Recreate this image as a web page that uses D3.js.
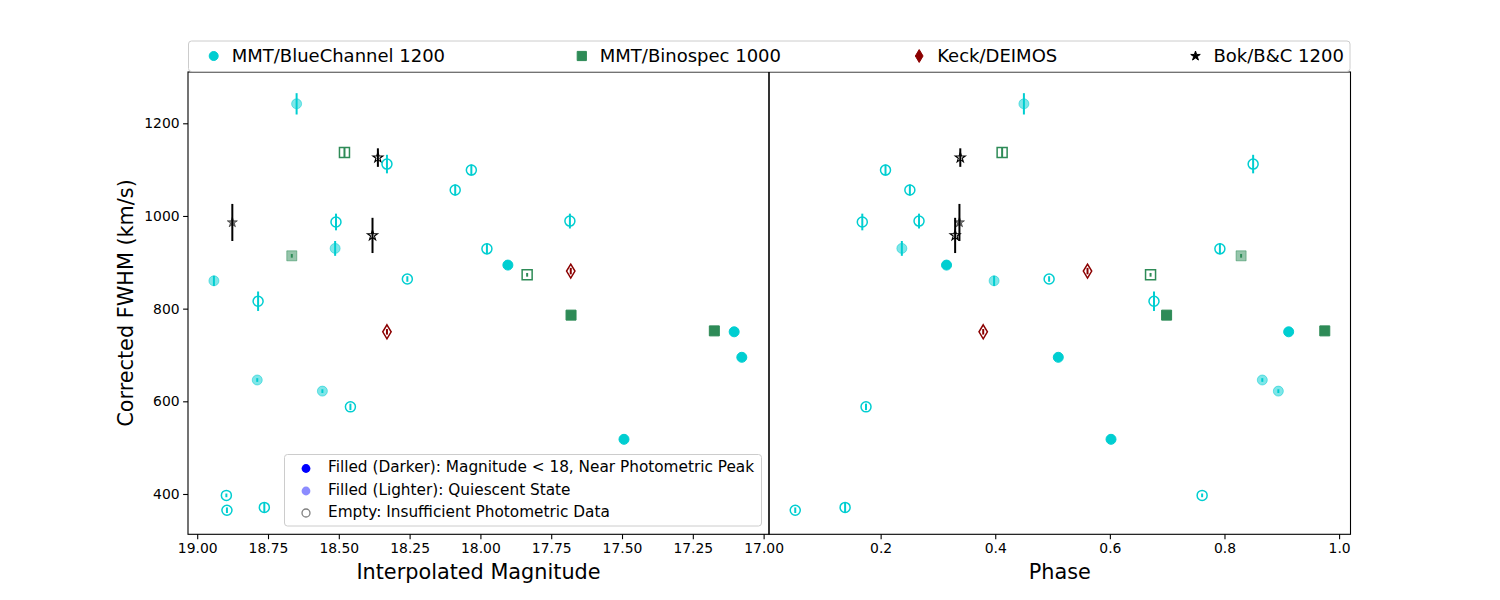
<!DOCTYPE html>
<html>
<head>
<meta charset="utf-8">
<script src="https://cdn.jsdelivr.net/npm/d3@7"></script>
<style>
  body { margin: 0; background: #fff; }
  svg { font-family: "DejaVu Sans", sans-serif; }
</style>
</head>
<body>
<svg id="chart" width="1500" height="600"></svg>
<script>
// one entry per spectrum, sorted by magnitude
const instrument = ["BC", "BC", "BC", "BOK", "BC", "BC", "BC", "BC", "BINO", "BC", "BC",
    "BC", "BINO", "BC", "BOK", "BOK", "BC", "DEIMOS", "BC", "BC", "BC", "BC", "BC", "BINO",
    "BC", "DEIMOS", "BINO", "BC", "BINO", "BC", "BC"];
const magnitude = [18.941, 18.897, 18.895, 18.876, 18.785, 18.788, 18.763, 18.649, 18.666,
    18.558, 18.510, 18.513, 18.480, 18.459, 18.381, 18.362, 18.330, 18.330, 18.258, 18.089,
    18.032, 17.977, 17.903, 17.835, 17.684, 17.681, 17.680, 17.493, 17.174, 17.104, 17.077];
const phase = [0.398, 0.761, 0.051, 0.3375, 0.677, 0.866, 0.138, 0.450, 0.829, 0.894, 0.168,
    0.237, 0.412, 0.1745, 0.330, 0.339, 0.850, 0.379, 0.494, 0.251, 0.2085, 0.792, 0.315,
    0.671, 0.267, 0.561, 0.699, 0.602, 0.975, 0.912, 0.510];
const fwhm = [860, 397, 365, 986, 816, 646, 371, 1242, 914, 622, 987, 930, 1137, 588, 958,
    1126, 1112, 750, 864, 1056, 1099, 929, 894, 873, 989, 881, 786, 518, 752, 750, 695];
const fwhmErr = [11, 4, 6, 40, 21, 4, 10, 23, 4, 4, 18, 16, 10, 7, 38, 20, 20, 6, 6, 12, 12,
    12, 5, 4, 16, 7, 5, 5, 5, 5, 5];
// peak = filled darker, quiet = filled lighter, empty = no photometry
const state = ["quiet", "empty", "empty", "quiet", "empty", "quiet", "empty", "quiet", "quiet",
    "quiet", "empty", "quiet", "empty", "empty", "empty", "empty", "empty", "empty", "empty",
    "empty", "empty", "empty", "peak", "empty", "empty", "empty", "peak", "peak", "peak",
    "peak", "peak"];

const instKeys = ["BC", "BINO", "DEIMOS", "BOK"];
const instLabels = ["MMT/BlueChannel 1200", "MMT/Binospec 1000", "Keck/DEIMOS", "Bok/B&C 1200"];
const instColors = ["#00ced1", "#2e8b57", "#8b0000", "#000000"];
const instShapes = ["circle", "square", "diamond", "star"];

const magTicks = [19.00, 18.75, 18.50, 18.25, 18.00, 17.75, 17.50, 17.25, 17.00];
const phaseTicks = [0.2, 0.4, 0.6, 0.8, 1.0];
const fwhmTicks = [400, 600, 800, 1000, 1200];

const stateLabels = ["Filled (Darker): Magnitude < 18, Near Photometric Peak",
    "Filled (Lighter): Quiescent State", "Empty: Insufficient Photometric Data"];

const svg = d3.select("#chart");
const plotTop = 72, plotBottom = 534.3;

const y = d3.scaleLinear().domain([313, 1310.7]).range([plotBottom, plotTop]);
const xMag = d3.scaleLinear().domain([19.0325, 16.981]).range([188, 769]);
const xPh = d3.scaleLinear().domain([0.0052, 1.0199]).range([769, 1350.5]);

function shapePath(shape, r) {
    if (shape === "circle") {
        return "M" + r + ",0A" + r + "," + r + " 0 1,1 " + (-r) + ",0A" + r + "," + r + " 0 1,1 " + r + ",0Z";
    }
    if (shape === "square") {
        return "M" + (-r) + "," + (-r) + "H" + r + "V" + r + "H" + (-r) + "Z";
    }
    if (shape === "diamond") {
        return "M0," + (-r * 1.4) + "L" + (r * 0.84) + ",0L0," + (r * 1.4) + "L" + (-r * 0.84) + ",0Z";
    }
    // five point star
    let pts = [];
    for (let k = 0; k < 10; k++) {
        let rr = k % 2 === 0 ? r : r * 0.382;
        let a = -Math.PI / 2 + k * Math.PI / 5;
        pts.push([rr * Math.cos(a), rr * Math.sin(a)]);
    }
    return "M" + pts.map(p => p[0].toFixed(2) + "," + p[1].toFixed(2)).join("L") + "Z";
}

function markerSize(shape) {
    if (shape === "star") return 5.3;
    return 5;
}

function styleMarker(sel, color, st, shape) {
    let lw = shape === "star" ? 1.1 : 1.5;
    if (st === "peak") {
        sel.attr("fill", color).attr("stroke", color).attr("stroke-width", 1);
    } else if (st === "quiet") {
        sel.attr("fill", color).attr("fill-opacity", 0.5)
            .attr("stroke", color).attr("stroke-opacity", 0.5).attr("stroke-width", 1);
    } else {
        sel.attr("fill", "none").attr("stroke", color).attr("stroke-width", lw);
    }
}

function drawPanel(xScale, xValues, ticks, fmt, label, showY) {
    let x0 = xScale.range()[0], x1 = xScale.range()[1];
    let g = svg.append("g");

    // points: error bars first, markers on top
    let order = d3.range(fwhm.length);
    order.forEach(function (i) {
        let k = instKeys.indexOf(instrument[i]);
        let cx = xScale(xValues[i]);
        g.append("line")
            .attr("x1", cx).attr("x2", cx)
            .attr("y1", y(fwhm[i] - fwhmErr[i]))
            .attr("y2", y(fwhm[i] + fwhmErr[i]))
            .attr("stroke", instColors[k])
            .attr("stroke-width", 2);
        let m = g.append("path")
            .attr("d", shapePath(instShapes[k], markerSize(instShapes[k])))
            .attr("transform", "translate(" + cx + "," + y(fwhm[i]) + ")");
        styleMarker(m, instColors[k], state[i], instShapes[k]);
    });

    // frame
    g.append("rect")
        .attr("x", x0).attr("y", plotTop)
        .attr("width", x1 - x0).attr("height", plotBottom - plotTop)
        .attr("fill", "none").attr("stroke", "#000").attr("stroke-width", 1.1);

    let xAxis = g.append("g")
        .attr("transform", "translate(0," + plotBottom + ")")
        .call(d3.axisBottom(xScale).tickValues(ticks).tickFormat(d3.format(fmt))
            .tickSize(4.9).tickPadding(3.5));
    xAxis.select(".domain").remove();
    xAxis.selectAll("line").attr("stroke-width", 1.1);
    xAxis.selectAll("text").attr("font-size", 13.9).attr("font-family", "DejaVu Sans").attr("fill", "#000");

    if (showY) {
        let yAxis = g.append("g")
            .attr("transform", "translate(" + x0 + ",0)")
            .call(d3.axisLeft(y).tickValues(fwhmTicks).tickFormat(d3.format("d"))
                .tickSize(4.9).tickPadding(3.5));
        yAxis.select(".domain").remove();
        yAxis.selectAll("line").attr("stroke-width", 1.1);
        yAxis.selectAll("text").attr("font-size", 13.9).attr("font-family", "DejaVu Sans").attr("fill", "#000");
    }

    g.append("text")
        .attr("x", (x0 + x1) / 2).attr("y", 579)
        .attr("text-anchor", "middle")
        .attr("font-size", 20.8)
        .text(label);
}

drawPanel(xMag, magnitude, magTicks, ".2f", "Interpolated Magnitude", true);
drawPanel(xPh, phase, phaseTicks, ".1f", "Phase", false);

svg.append("text")
    .attr("transform", "translate(132.5,303) rotate(-90)")
    .attr("text-anchor", "middle")
    .attr("font-size", 20.8)
    .text("Corrected FWHM (km/s)");

// instrument legend across the top
let topLeg = svg.append("g");
topLeg.append("rect")
    .attr("x", 188.5).attr("y", 41).attr("width", 1161.5).attr("height", 30.5)
    .attr("rx", 3).attr("fill", "#fff").attr("fill-opacity", 0.8)
    .attr("stroke", "#cccccc").attr("stroke-width", 1);
const legMarkX = [213.7, 581.8, 919.2, 1195.5];
instKeys.forEach(function (key, k) {
    let r = instShapes[k] === "star" ? 5 : (instShapes[k] === "circle" ? 4.5 : 4.6);
    topLeg.append("path")
        .attr("d", shapePath(instShapes[k], r))
        .attr("transform", "translate(" + legMarkX[k] + ",56)")
        .attr("fill", instColors[k]).attr("stroke", instColors[k]).attr("stroke-width", 1);
    topLeg.append("text")
        .attr("x", legMarkX[k] + 18).attr("y", 56).attr("dy", "0.35em")
        .attr("font-size", 18)
        .text(instLabels[k]);
});

// fill-state legend inside the left panel
let stLeg = svg.append("g");
stLeg.append("rect")
    .attr("x", 284.5).attr("y", 454.5).attr("width", 477).attr("height", 71.5)
    .attr("rx", 3).attr("fill", "#fff").attr("fill-opacity", 0.8)
    .attr("stroke", "#cccccc").attr("stroke-width", 1);
const stRowY = [468.5, 491, 513];
stateLabels.forEach(function (lab, k) {
    let c = stLeg.append("circle")
        .attr("cx", 306).attr("cy", stRowY[k]).attr("r", 4.4);
    if (k === 0) c.attr("fill", "#0000ff");
    else if (k === 1) c.attr("fill", "#0000ff").attr("fill-opacity", 0.45);
    else c.attr("r", 4).attr("fill", "none").attr("stroke", "#808080").attr("stroke-width", 1.3);
    stLeg.append("text")
        .attr("x", 328).attr("y", stRowY[k] - 1.5).attr("dy", "0.35em")
        .attr("font-size", 15.3)
        .text(lab);
});
</script>
</body>
</html>
